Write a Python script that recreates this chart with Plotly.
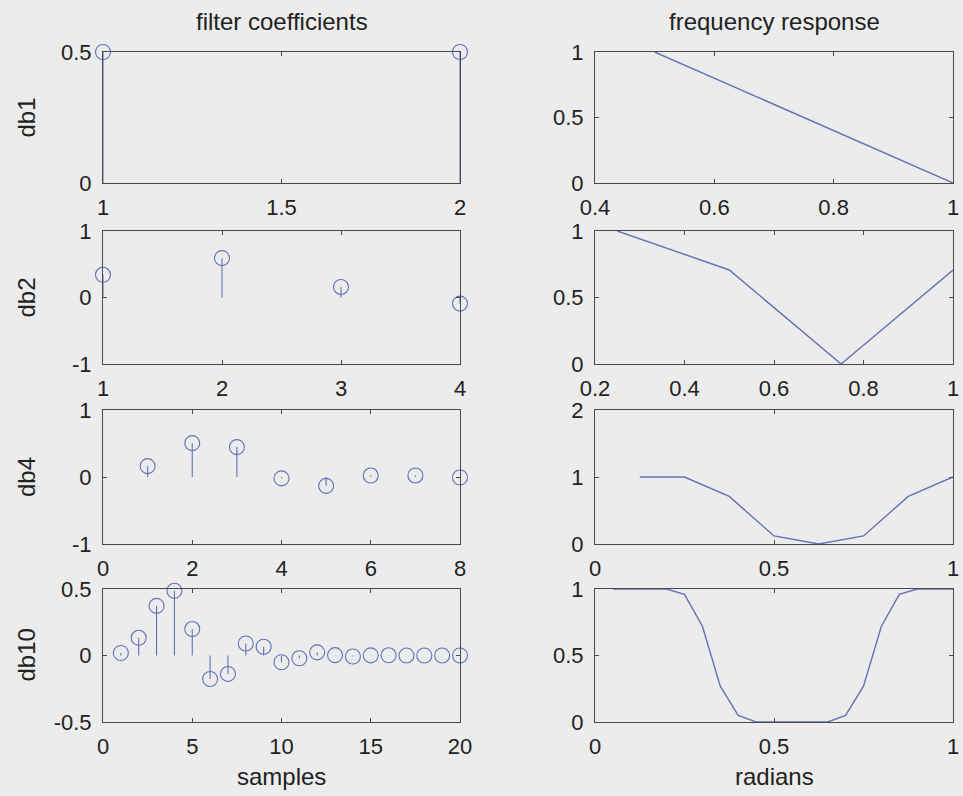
import plotly.graph_objects as go

# ---------------- data ----------------
db1_n = [1, 2]
db1_h = [0.5, 0.5]
db2_n = [1, 2, 3, 4]
db2_h = [0.3415, 0.5915, 0.1585, -0.0915]
db4_n = [1, 2, 3, 4, 5, 6, 7, 8]
db4_h = [0.1629, 0.5055, 0.4461, -0.0198, -0.1323, 0.0218, 0.0233, -0.0075]
db10_n = list(range(1, 21))
db10_h = [0.0189, 0.1331, 0.3728, 0.4868, 0.1988, -0.1767, -0.1386, 0.0901,
          0.0658, -0.0505, -0.0208, 0.0235, 0.0026, -0.0076, 0.0010, 0.0014,
          -0.0005, -0.0001, 0.0001, 0.0000]

fr1_w = [0.5, 1.0]
fr1_m = [1.0, 0.0]
fr2_w = [0.25, 0.5, 0.75, 1.0]
fr2_m = [1.0, 0.707, 0.0, 0.707]
fr3_w = [0.125, 0.25, 0.375, 0.5, 0.625, 0.75, 0.875, 1.0]
fr3_m = [1.0, 1.0, 0.71, 0.12, 0.0, 0.12, 0.71, 1.0]
fr4_w = [0.05, 0.1, 0.15, 0.2, 0.25, 0.3, 0.35, 0.4, 0.45, 0.5,
         0.55, 0.6, 0.65, 0.7, 0.75, 0.8, 0.85, 0.9, 0.95, 1.0]
fr4_m = [1.0, 1.0, 1.0, 1.0, 0.96, 0.72, 0.27, 0.05, 0.0, 0.0,
         0.0, 0.0, 0.0, 0.05, 0.27, 0.72, 0.96, 1.0, 1.0, 1.0]

row_labels = ["db1", "db2", "db4", "db10"]
col_titles = ["filter coefficients", "frequency response"]
x_titles = ["samples", "radians"]

left_xranges = [[1, 2], [1, 4], [0, 8], [0, 20]]
left_yranges = [[0, 0.5], [-1, 1], [-1, 1], [-0.5, 0.5]]
right_xranges = [[0.4, 1], [0.2, 1], [0, 1], [0, 1]]
right_yranges = [[0, 1], [0, 1], [0, 2], [0, 1]]

left_xticks = [[1, 1.5, 2], [1, 2, 3, 4], [0, 2, 4, 6, 8], [0, 5, 10, 15, 20]]
left_xtext = [["1", "1.5", "2"], ["1", "2", "3", "4"], ["0", "2", "4", "6", "8"],
              ["0", "5", "10", "15", "20"]]
left_yticks = [[0, 0.5], [-1, 0, 1], [-1, 0, 1], [-0.5, 0, 0.5]]
left_ytext = [["0", "0.5"], ["-1", "0", "1"], ["-1", "0", "1"], ["-0.5", "0", "0.5"]]
right_xticks = [[0.4, 0.6, 0.8, 1], [0.2, 0.4, 0.6, 0.8, 1], [0, 0.5, 1], [0, 0.5, 1]]
right_xtext = [["0.4", "0.6", "0.8", "1"], ["0.2", "0.4", "0.6", "0.8", "1"],
               ["0", "0.5", "1"], ["0", "0.5", "1"]]
right_yticks = [[0, 0.5, 1], [0, 0.5, 1], [0, 1, 2], [0, 0.5, 1]]
right_ytext = [["0", "0.5", "1"], ["0", "0.5", "1"], ["0", "1", "2"], ["0", "0.5", "1"]]

stems = [(db1_n, db1_h), (db2_n, db2_h), (db4_n, db4_h), (db10_n, db10_h)]
resps = [(fr1_w, fr1_m), (fr2_w, fr2_m), (fr3_w, fr3_m), (fr4_w, fr4_m)]

# ---------------- layout geometry (pixels) ----------------
W, H = 963, 796
col_px = [(103, 460), (595, 953)]
row_px = [(52, 183), (231, 364), (410, 544), (589, 722)]

BG = "#ececec"
AX = "#4a4a4a"
BLUE = "#6272b8"
TXT = "#222222"
FONT = "Liberation Sans, Arial, sans-serif"
FS_TICK = 22
FS_LAB = 24

fig = go.Figure()
layout = dict(
    template="none",
    width=W, height=H,
    margin=dict(l=0, r=0, t=0, b=0, pad=0),
    paper_bgcolor=BG, plot_bgcolor=BG,
    showlegend=False,
    font=dict(family=FONT, size=FS_TICK, color=TXT),
    annotations=[],
)


def axis_common(dom, rng, tv, tt):
    return dict(
        domain=dom, range=rng, tickvals=tv, ticktext=tt,
        showgrid=False, zeroline=False, automargin=False,
        showline=True, linecolor=AX, linewidth=1, mirror="ticks",
        ticks="inside", ticklen=4, tickcolor=AX, tickwidth=1,
        tickfont=dict(family=FONT, size=FS_TICK, color=TXT),
        fixedrange=True,
    )


idx = 0
for r in range(4):
    for c in range(2):
        idx += 1
        xname = "xaxis" if idx == 1 else f"xaxis{idx}"
        yname = "yaxis" if idx == 1 else f"yaxis{idx}"
        xref = "x" if idx == 1 else f"x{idx}"
        yref = "y" if idx == 1 else f"y{idx}"
        x0, x1 = col_px[c]
        y0, y1 = row_px[r]
        xdom = [x0 / W, x1 / W]
        ydom = [1 - y1 / H, 1 - y0 / H]
        if c == 0:
            xa = axis_common(xdom, left_xranges[r], left_xticks[r], left_xtext[r])
            ya = axis_common(ydom, left_yranges[r], left_yticks[r], left_ytext[r])
            n, h = stems[r]
            fig.add_trace(go.Scatter(
                x=n, y=h, mode="markers", xaxis=xref, yaxis=yref,
                cliponaxis=False,
                marker=dict(symbol="circle-open", size=15,
                            color=BLUE, line=dict(width=1.1, color=BLUE)),
                error_y=dict(type="data", symmetric=False,
                             array=[max(-v, 0) for v in h],
                             arrayminus=[max(v, 0) for v in h],
                             width=0, thickness=1.1, color=BLUE),
            ))
        else:
            xa = axis_common(xdom, right_xranges[r], right_xticks[r], right_xtext[r])
            ya = axis_common(ydom, right_yranges[r], right_yticks[r], right_ytext[r])
            w, m = resps[r]
            fig.add_trace(go.Scatter(
                x=w, y=m, mode="lines", xaxis=xref, yaxis=yref,
                cliponaxis=False,
                line=dict(color=BLUE, width=1.4),
            ))
        xa["anchor"] = yref
        ya["anchor"] = xref
        xa["ticklabelstandoff"] = 5
        ya["ticklabelstandoff"] = 6
        layout[xname] = xa
        layout[yname] = ya

# row labels
for r in range(4):
    yc = (row_px[r][0] + row_px[r][1]) / 2
    layout["annotations"].append(dict(
        text=row_labels[r], xref="paper", yref="paper",
        x=26 / W, y=1 - yc / H, xanchor="center", yanchor="middle",
        textangle=-90, showarrow=False,
        font=dict(size=FS_LAB, family=FONT, color=TXT)))

# column titles and x titles
for c in range(2):
    xc = (col_px[c][0] + col_px[c][1]) / 2
    layout["annotations"].append(dict(
        text=col_titles[c], xref="paper", yref="paper",
        x=xc / W, y=1 - 22 / H, xanchor="center", yanchor="middle",
        showarrow=False, font=dict(size=FS_LAB, family=FONT, color=TXT)))
    layout["annotations"].append(dict(
        text=x_titles[c], xref="paper", yref="paper",
        x=xc / W, y=1 - 776 / H, xanchor="center", yanchor="middle",
        showarrow=False, font=dict(size=FS_LAB, family=FONT, color=TXT)))

fig.update_layout(**layout)
fig.write_html("out.html", config={"displayModeBar": False})
